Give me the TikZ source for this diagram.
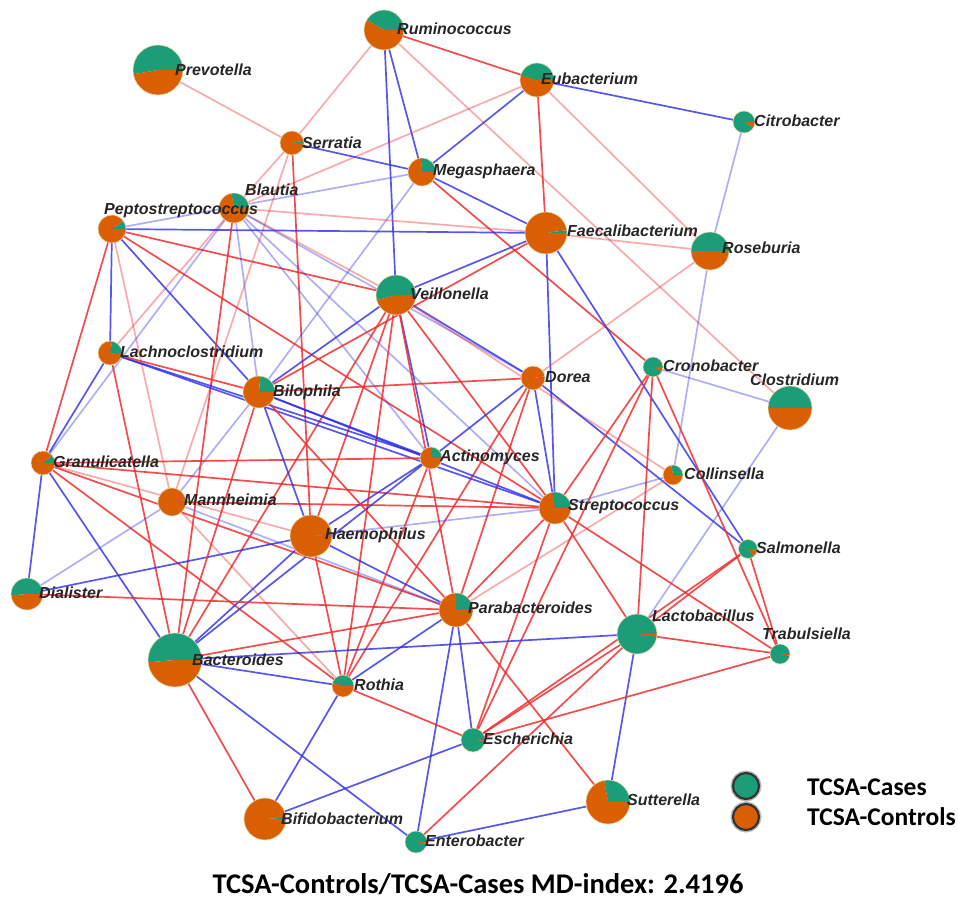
\documentclass[tikz,border=0pt]{standalone}
\usepackage{fontspec}
\setmainfont{Liberation Sans}
\newfontfamily\carlito{Carlito}
\usepackage{tikz}
\definecolor{casegreen}{RGB}{27,158,119}
\definecolor{ctrlorange}{RGB}{217,95,2}
\definecolor{linkred}{RGB}{240,45,45}
\definecolor{linkblue}{RGB}{45,45,235}
\definecolor{rimtan}{RGB}{232,214,170}
% pie of one genus: name, radius, end angle of the cases slice
\newcommand{\genuspie}[3]{%
  \fill[casegreen] (#1) -- ++(0:#2pt) arc[start angle=0,end angle=#3,radius=#2pt] -- cycle;
  \fill[ctrlorange] (#1) -- ++(#3:#2pt) arc[start angle=#3,end angle=360,radius=#2pt] -- cycle;
  \draw[rimtan,line width=.6pt] (#1) circle[radius=#2pt];}

\begin{document}
\begin{tikzpicture}[x=1pt,y=-1pt,
  redlink/.style={draw=linkred,line width=1.7pt,opacity=.85},
  redfaint/.style={draw=linkred,line width=1.7pt,opacity=.4},
  bluelink/.style={draw=linkblue,line width=1.7pt,opacity=.8},
  bluefaint/.style={draw=linkblue,line width=1.7pt,opacity=.38},
  taxon/.style={font=\fontsize{16}{18}\selectfont\bfseries\itshape,
    anchor=west,inner sep=0pt,text=black!85},
  legendtext/.style={font=\carlito\fontsize{25.5}{28}\selectfont\bfseries,
    anchor=west,inner sep=0pt},
  keydot/.style={draw=black!80,line width=2.2pt}
]
  \useasboundingbox (0,0) rectangle (958,902);
  \coordinate (rumi) at (384,30);
  \coordinate (prev) at (158,70);
  \coordinate (euba) at (537,80);
  \coordinate (citr) at (744,122);
  \coordinate (serr) at (292,143);
  \coordinate (mega) at (422,172);
  \coordinate (blau) at (234,208);
  \coordinate (pept) at (112,229);
  \coordinate (faec) at (546,233);
  \coordinate (rose) at (710,251);
  \coordinate (veil) at (396,295);
  \coordinate (lach) at (110,353);
  \coordinate (bilo) at (259,392);
  \coordinate (dore) at (533,378);
  \coordinate (cron) at (653,367);
  \coordinate (clos) at (790,408);
  \coordinate (gran) at (43,463);
  \coordinate (acti) at (431,458);
  \coordinate (coll) at (673,475);
  \coordinate (mann) at (172,502);
  \coordinate (stre) at (555,508);
  \coordinate (haem) at (311,536);
  \coordinate (salm) at (748,549);
  \coordinate (dial) at (27,594);
  \coordinate (para) at (456,610);
  \coordinate (lact) at (637,634);
  \coordinate (trab) at (780,654);
  \coordinate (bact) at (175,660);
  \coordinate (roth) at (343,686);
  \coordinate (esch) at (473,740);
  \coordinate (sutt) at (608,802);
  \coordinate (bifi) at (265,819);
  \coordinate (ente) at (416,842);

  % links
  \draw[redlink] (rumi) -- (euba);
  \draw[redfaint] (rumi) -- (serr);
  \draw[bluelink] (rumi) -- (mega);
  \draw[bluelink] (rumi) -- (veil);
  \draw[redfaint] (rumi) -- (clos);
  \draw[redfaint] (prev) -- (serr);
  \draw[redfaint] (euba) -- (blau);
  \draw[bluelink] (euba) -- (mega);
  \draw[bluelink] (euba) -- (citr);
  \draw[redlink] (euba) -- (faec);
  \draw[redfaint] (euba) -- (rose);
  \draw[bluefaint] (citr) -- (rose);
  \draw[bluefaint] (rose) -- (coll);
  \draw[bluelink] (serr) -- (mega);
  \draw[redfaint] (serr) -- (blau);
  \draw[redfaint] (serr) -- (mann);
  \draw[redlink] (serr) -- (haem);
  \draw[redfaint] (blau) -- (lach);
  \draw[bluefaint] (pept) -- (mega);
  \draw[bluelink] (mega) -- (faec);
  \draw[redlink] (mega) -- (cron);
  \draw[bluefaint] (mega) -- (bilo);
  \draw[bluefaint] (bilo) -- (mann);
  \draw[redfaint] (blau) -- (faec);
  \draw[bluelink] (pept) -- (faec);
  \draw[redlink] (pept) -- (veil);
  \draw[redlink] (pept) -- (stre);
  \draw[bluelink] (pept) -- (bilo);
  \draw[bluelink] (pept) -- (lach);
  \draw[redlink] (pept) -- (gran);
  \draw[redfaint] (pept) -- (mann);
  \draw[bluefaint] (blau) -- (gran);
  \draw[bluelink] (lach) -- (gran);
  \draw[redlink] (lach) -- (bact);
  \draw[redfaint] (blau) -- (veil);
  \draw[bluefaint] (blau) -- (dore);
  \draw[bluefaint] (blau) -- (acti);
  \draw[bluefaint] (blau) -- (stre);
  \draw[bluefaint] (blau) -- (bilo);
  \draw[redlink] (blau) -- (bact);
  \draw[bluelink] (faec) -- (veil);
  \draw[redlink] (faec) -- (bilo);
  \draw[bluelink] (bilo) -- (veil);
  \draw[bluelink] (veil) -- (dore);
  \draw[redfaint] (veil) -- (coll);
  \draw[redlink] (veil) -- (haem);
  \draw[bluelink] (veil) -- (acti);
  \draw[redlink] (veil) -- (para);
  \draw[redlink] (veil) -- (stre);
  \draw[redlink] (veil) -- (bact);
  \draw[redlink] (veil) -- (roth);
  \draw[redfaint] (faec) -- (rose);
  \draw[bluelink] (faec) -- (stre);
  \draw[bluelink] (faec) -- (salm);
  \draw[redfaint] (rose) -- (dore);
  \draw[redlink] (bilo) -- (dore);
  \draw[bluelink] (dore) -- (acti);
  \draw[bluelink] (dore) -- (stre);
  \draw[bluelink] (dore) -- (salm);
  \draw[redlink] (dore) -- (para);
  \draw[redlink] (dore) -- (roth);
  \draw[bluefaint] (cron) -- (clos);
  \draw[redlink] (cron) -- (stre);
  \draw[redlink] (cron) -- (lact);
  \draw[redlink] (cron) -- (trab);
  \draw[redlink] (cron) -- (esch);
  \draw[bluefaint] (clos) -- (lact);
  \draw[bluefaint] (coll) -- (stre);
  \draw[redfaint] (coll) -- (para);
  \draw[redlink] (salm) -- (lact);
  \draw[redlink] (salm) -- (trab);
  \draw[redlink] (salm) -- (esch);
  \draw[redlink] (stre) -- (trab);
  \draw[redlink] (stre) -- (lact);
  \draw[redlink] (stre) -- (esch);
  \draw[redlink] (stre) -- (para);
  \draw[bluelink] (lach) -- (stre);
  \draw[bluelink] (lach) -- (acti);
  \draw[bluelink] (bilo) -- (acti);
  \draw[bluelink] (bilo) -- (stre);
  \draw[redlink] (lach) -- (bilo);
  \draw[redlink] (gran) -- (stre);
  \draw[redlink] (gran) -- (acti);
  \draw[redlink] (mann) -- (stre);
  \draw[bluelink] (gran) -- (dial);
  \draw[bluelink] (gran) -- (bact);
  \draw[redfaint] (gran) -- (haem);
  \draw[redlink] (gran) -- (roth);
  \draw[redlink] (gran) -- (para);
  \draw[bluefaint] (mann) -- (dial);
  \draw[bluefaint] (mann) -- (para);
  \draw[redfaint] (mann) -- (roth);
  \draw[bluelink] (bilo) -- (haem);
  \draw[bluelink] (haem) -- (acti);
  \draw[bluefaint] (haem) -- (stre);
  \draw[bluelink] (haem) -- (para);
  \draw[bluelink] (dial) -- (haem);
  \draw[bluelink] (bact) -- (haem);
  \draw[bluelink] (bact) -- (acti);
  \draw[redlink] (haem) -- (roth);
  \draw[redlink] (bilo) -- (bact);
  \draw[redlink] (bilo) -- (para);
  \draw[redlink] (acti) -- (roth);
  \draw[redlink] (dial) -- (para);
  \draw[redlink] (bact) -- (para);
  \draw[bluelink] (para) -- (roth);
  \draw[bluelink] (para) -- (esch);
  \draw[bluelink] (para) -- (ente);
  \draw[redlink] (para) -- (sutt);
  \draw[bluelink] (bact) -- (lact);
  \draw[bluelink] (lact) -- (sutt);
  \draw[redlink] (lact) -- (trab);
  \draw[redlink] (esch) -- (lact);
  \draw[redlink] (ente) -- (lact);
  \draw[redlink] (roth) -- (esch);
  \draw[bluelink] (bifi) -- (esch);
  \draw[redlink] (esch) -- (trab);
  \draw[bluelink] (bact) -- (roth);
  \draw[bluelink] (roth) -- (bifi);
  \draw[redlink] (bact) -- (bifi);
  \draw[bluelink] (bact) -- (ente);
  \draw[bluelink] (ente) -- (sutt);

  % genera
  \genuspie{rumi}{20}{150}
  \genuspie{prev}{25}{190}
  \genuspie{euba}{17}{165}
  \genuspie{citr}{11}{330}
  \genuspie{serr}{12}{12}
  \genuspie{mega}{14}{95}
  \genuspie{blau}{15}{100}
  \genuspie{pept}{14}{35}
  \genuspie{faec}{21}{8}
  \genuspie{rose}{19}{180}
  \genuspie{veil}{20}{195}
  \genuspie{lach}{12}{80}
  \genuspie{bilo}{16}{85}
  \genuspie{dore}{12}{8}
  \genuspie{cron}{10}{335}
  \genuspie{clos}{22}{180}
  \genuspie{gran}{12}{40}
  \genuspie{acti}{11}{90}
  \genuspie{coll}{10}{100}
  \genuspie{mann}{14}{8}
  \genuspie{stre}{16}{100}
  \genuspie{haem}{21}{4}
  \genuspie{salm}{9.5}{310}
  \genuspie{dial}{16}{185}
  \genuspie{para}{17}{90}
  \genuspie{lact}{20}{352}
  \genuspie{trab}{10}{350}
  \genuspie{bact}{27}{185}
  \genuspie{roth}{11}{165}
  \genuspie{esch}{12}{355}
  \genuspie{sutt}{22}{100}
  \genuspie{bifi}{21}{4}
  \genuspie{ente}{11}{350}

  \node[taxon] (rumi-l) at (397,29) {Ruminococcus};
  \node[taxon] (prev-l) at (175,70) {Prevotella};
  \node[taxon] (euba-l) at (541,79) {Eubacterium};
  \node[taxon] (citr-l) at (754,121) {Citrobacter};
  \node[taxon] (serr-l) at (302,143) {Serratia};
  \node[taxon] (mega-l) at (433,171) {Megasphaera};
  \node[taxon] (blau-l) at (245,190) {Blautia};
  \node[taxon] (pept-l) at (104,211) {Peptostreptococcus};
  \node[taxon] (faec-l) at (567,231) {Faecalibacterium};
  \node[taxon] (rose-l) at (722,248) {Roseburia};
  \node[taxon] (veil-l) at (410,294) {Veillonella};
  \node[taxon] (lach-l) at (120,352) {Lachnoclostridium};
  \node[taxon] (bilo-l) at (273,392) {Bilophila};
  \node[taxon] (dore-l) at (545,377) {Dorea};
  \node[taxon] (cron-l) at (663,366) {Cronobacter};
  \node[taxon] (clos-l) at (750,380) {Clostridium};
  \node[taxon] (gran-l) at (53,462) {Granulicatella};
  \node[taxon] (acti-l) at (440,457) {Actinomyces};
  \node[taxon] (coll-l) at (684,474) {Collinsella};
  \node[taxon] (mann-l) at (184,500) {Mannheimia};
  \node[taxon] (stre-l) at (568,507) {Streptococcus};
  \node[taxon] (haem-l) at (325,535) {Haemophilus};
  \node[taxon] (salm-l) at (756,548) {Salmonella};
  \node[taxon] (dial-l) at (39,593) {Dialister};
  \node[taxon] (para-l) at (468,608) {Parabacteroides};
  \node[taxon] (lact-l) at (652,616) {Lactobacillus};
  \node[taxon] (trab-l) at (762,634) {Trabulsiella};
  \node[taxon] (bact-l) at (192,660) {Bacteroides};
  \node[taxon] (roth-l) at (354,685) {Rothia};
  \node[taxon] (esch-l) at (483,739) {Escherichia};
  \node[taxon] (sutt-l) at (627,800) {Sutterella};
  \node[taxon] (bifi-l) at (281,819) {Bifidobacterium};
  \node[taxon] (ente-l) at (425,841) {Enterobacter};

  % legend
  \coordinate (keycases) at (746,786);
  \coordinate (keyctrls) at (746,817);
  \draw[black!45,line width=5pt,opacity=.6] (keycases) circle[radius=13pt]
    (keyctrls) circle[radius=13pt];
  \draw[keydot,fill=casegreen] (keycases) circle[radius=13pt];
  \draw[keydot,fill=ctrlorange] (keyctrls) circle[radius=13pt];
  \node[legendtext] (cases-l) at (807,787) {TCSA-Cases};
  \node[legendtext] (ctrls-l) at (807,817) {TCSA-Controls};
  \node[font=\carlito\fontsize{28.5}{31}\selectfont\bfseries] (title) at (478,884)
    {TCSA-Controls/TCSA-Cases MD-index: 2.4196};
\end{tikzpicture}
\end{document}
